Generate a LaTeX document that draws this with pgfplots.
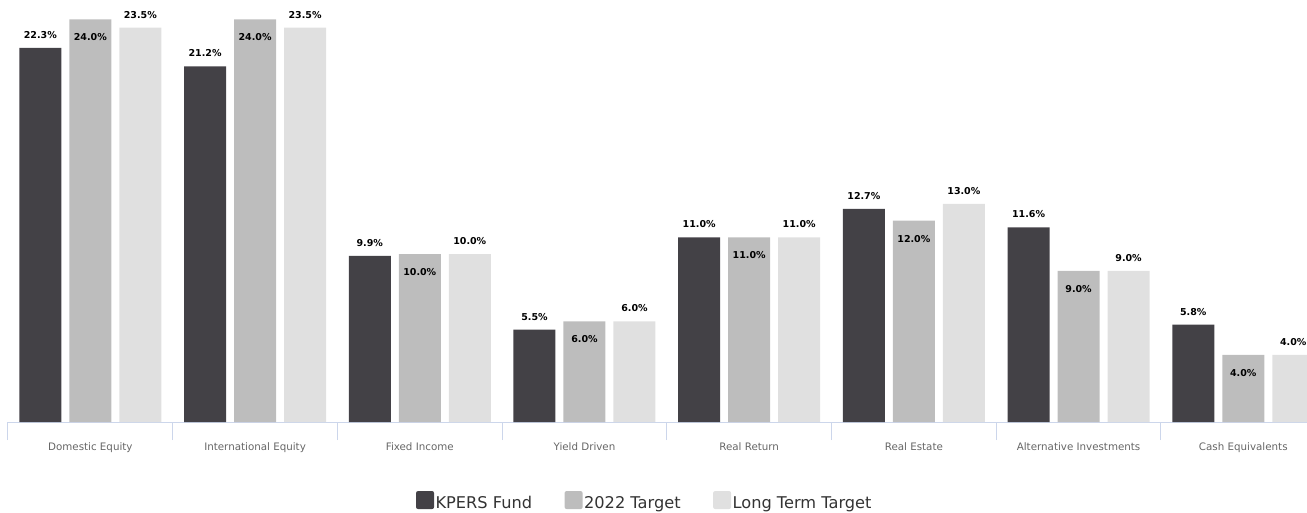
\documentclass[border=0pt]{standalone}
\usepackage{pgfplots}
\pgfplotsset{compat=1.18}
\usepackage{fontspec}
\setmainfont{DejaVu Sans}
\definecolor{c1}{HTML}{434146}
\definecolor{c2}{HTML}{BDBDBD}
\definecolor{c3}{HTML}{E0E0E0}
\definecolor{axc}{HTML}{CCD6EB}
\definecolor{lab}{HTML}{666666}
\definecolor{leg}{HTML}{333333}
\begin{document}
\begin{tikzpicture}
\useasboundingbox (-8pt,-90pt) rectangle (1299pt,422pt);
\begin{axis}[
  scale only axis, width=1299pt, height=422pt,
  xmin=-0.5, xmax=7.387, ymin=0, ymax=25.15,
  ybar=8pt, bar width=42pt,
  axis x line=bottom, axis y line=none,
  x axis line style={-, draw=axc, line width=1pt},
  xtick={0,1,2,3,4,5,6,7},
  xticklabels={Domestic Equity, International Equity, Fixed Income, Yield Driven, Real Return, Real Estate, Alternative Investments, Cash Equivalents},
  tick align=outside, major tick length=0pt,
  x tick style={draw=axc, line width=1pt},
  xticklabel style={font=\fontsize{10.3}{12}\selectfont, text=lab, anchor=base, yshift=-28.5pt},
  extra x ticks={-0.5,0.5,1.5,2.5,3.5,4.5,5.5,6.5},
  extra x tick labels={},
  extra x tick style={major tick length=18pt,
    xticklabel style={opacity=0}},
  nodes near coords={\pgfmathprintnumber[fixed,fixed zerofill,precision=1,assume math mode=true]{\pgfplotspointmeta}\%},
  nodes near coords style={font=\fontsize{9.5}{11}\selectfont\bfseries, text=black, anchor=center},
  legend style={at={(0.49,-0.186)}, anchor=center, draw=none, fill=none,
    font=\fontsize{16.2}{18}\selectfont, text=leg,
    nodes={inner xsep=1.5pt, inner ysep=0pt},
    /tikz/every even column/.append style={column sep=31pt}},
  legend columns=3,
  legend image code/.code={\fill[#1, rounded corners=2pt] (0pt,-6pt) rectangle (18pt,12pt);},
]
\addplot[fill=c1, draw=none, every node near coord/.append style={yshift=13pt}] coordinates {
  (0,22.3) (1,21.2) (2,9.9) (3,5.5) (4,11.0) (5,12.7) (6,11.6) (7,5.8)};
\addplot[fill=c2, draw=none, every node near coord/.append style={yshift=-18pt}] coordinates {
  (0,24.0) (1,24.0) (2,10.0) (3,6.0) (4,11.0) (5,12.0) (6,9.0) (7,4.0)};
\addplot[fill=c3, draw=none, every node near coord/.append style={yshift=13pt}] coordinates {
  (0,23.5) (1,23.5) (2,10.0) (3,6.0) (4,11.0) (5,13.0) (6,9.0) (7,4.0)};
\legend{KPERS Fund, 2022 Target, Long Term Target}
\end{axis}
\end{tikzpicture}
\end{document}
